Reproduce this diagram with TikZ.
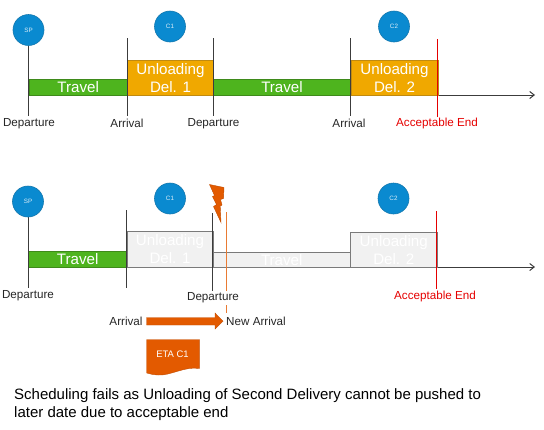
\documentclass[tikz,border=0pt]{standalone}
\usepackage{fontspec}
\setmainfont{Liberation Sans}
\usetikzlibrary{arrows.meta}
\definecolor{cblue}{HTML}{0A8AD0}
\definecolor{cblueb}{HTML}{1478AE}
\definecolor{cgreen}{HTML}{4EB41E}
\definecolor{cgreenb}{HTML}{3E8A1A}
\definecolor{cyel}{HTML}{F0A800}
\definecolor{cyelb}{HTML}{C08A10}
\definecolor{corg}{HTML}{E35A00}
\definecolor{cpale}{HTML}{F1F1F1}
\definecolor{cpaleb}{HTML}{7A7A7A}
\definecolor{cline}{HTML}{3C3C3C}
\definecolor{ctext}{HTML}{262626}
\tikzset{
  x=1bp,y=-1bp,
  stop/.style={circle,draw=cblueb,fill=cblue,line width=.6bp,minimum size=31bp,inner sep=0pt,text=white!85!cblue,font=\fontsize{6.3}{7}\selectfont},
  bar/.style={line width=1bp,inner sep=0pt},
  travelbar/.style={bar,draw=cgreenb,fill=cgreen,text=white,font=\fontsize{15.2}{16}\selectfont},
  unloadbar/.style={bar,draw=cyelb,fill=cyel,text=white,align=center,font=\fontsize{15.2}{18}\selectfont},
  palebar/.style={bar,draw=cpaleb,fill=cpale,text=white,align=center,font=\fontsize{15.2}{18}\selectfont},
  tick/.style={draw=cline,line width=1bp},
  redtick/.style={draw=red!90!black,line width=1bp},
  axis/.style={draw=cline,line width=1bp,-{Straight Barb[length=4.5bp,width=7bp]}},
  lab/.style={text=ctext,font=\fontsize{11.7}{13}\selectfont,inner sep=0pt},
  redlab/.style={lab,text=red!90!black},
  orangeshape/.style={fill=corg,draw=corg!85!black,line width=.4bp}
}
\begin{document}
\begin{tikzpicture}
\useasboundingbox (0,0) rectangle (544,429);
% ---------- top timeline
\coordinate (ta0) at (28.5,45); \coordinate (tb0) at (28.5,116);
\coordinate (ta1) at (127,38);  \coordinate (tb1) at (127,116);
\coordinate (ta2) at (213,38);  \coordinate (tb2) at (213,116);
\coordinate (ta3) at (350,38);  \coordinate (tb3) at (350,116);
\coordinate (ta4) at (437.5,39);\coordinate (tb4) at (437.5,117);
\coordinate (taxA) at (437.5,95); \coordinate (taxB) at (535,95);
\draw[axis] (taxA) -- (taxB);
\node[travelbar,minimum width=98.5bp,minimum height=16bp,anchor=north west] (tt1) at (28.5,79) {Travel};
\node[unloadbar,minimum width=86bp,minimum height=35.5bp,anchor=north west] (tu1) at (127,59.5) {Unloading\\Del. 1};
\node[travelbar,minimum width=137bp,minimum height=16bp,anchor=north west] (tt2) at (213,79) {Travel};
\node[unloadbar,minimum width=87bp,minimum height=35.5bp,anchor=north west] (tu2) at (350.5,59.5) {Unloading\\Del. 2};
\draw[tick] (ta0) -- (tb0);
\draw[tick] (ta1) -- (tb1);
\draw[tick] (ta2) -- (tb2);
\draw[tick] (ta3) -- (tb3);
\draw[redtick] (ta4) -- (tb4);
\node[stop] (tsp) at (28.5,30) {SP};
\node[stop] (tc1) at (170,26.5) {C1};
\node[stop] (tc2) at (394,26.5) {C2};
\node[lab] (tl0) at (29,123.5) {Departure};
\node[lab] (tl1) at (127,123.5) {Arrival};
\node[lab] (tl2) at (213.5,123.5) {Departure};
\node[lab] (tl3) at (349,123.5) {Arrival};
\node[redlab] (tl4) at (437,123.5) {Acceptable End};
% ---------- bottom timeline
\coordinate (ba0) at (28,217); \coordinate (bb0) at (28,288);
\coordinate (ba1) at (126.5,210); \coordinate (bb1) at (126.5,288);
\coordinate (ba2) at (212.5,213); \coordinate (bb2) at (212.5,291);
\coordinate (ba3) at (226,212); \coordinate (bb3) at (226,313);
\coordinate (ba4) at (436.5,211); \coordinate (bb4) at (436.5,289);
\coordinate (baxA) at (436.5,267); \coordinate (baxB) at (535,267);
\draw[axis] (baxA) -- (baxB);
\node[travelbar,minimum width=98.5bp,minimum height=16bp,anchor=north west] (bt1) at (28,251) {Travel};
\node[palebar,minimum width=86bp,minimum height=36bp,anchor=north west] (bu1) at (126.5,231) {Unloading\\Del. 1};
\node[palebar,minimum width=137.5bp,minimum height=15bp,anchor=north west] (bt2) at (212.5,252) {Travel};
\node[palebar,minimum width=86.5bp,minimum height=35.5bp,anchor=north west] (bu2) at (350,231.5) {Unloading\\Del. 2};
\draw[tick] (ba0) -- (bb0);
\draw[tick] (ba1) -- (bb1);
\draw[tick] (ba2) -- (bb2);
\draw[draw=corg!80!white,line width=1bp] (ba3) -- (bb3);
\draw[redtick] (ba4) -- (bb4);
\node[stop] (bsp) at (28,201.5) {SP};
\node[stop] (bc1) at (170,198.5) {C1};
\node[stop] (bc2) at (393.5,198.5) {C2};
\node[lab] (bl0) at (28,295.5) {Departure};
\node[lab,fill=white,inner ysep=1.5bp] (bl2) at (213,298) {Departure};
\node[redlab] (bl4) at (435,296) {Acceptable End};
\node[lab] (bl1) at (126,321.5) {Arrival};
\node[lab] (bl3) at (256,321) {New Arrival};
% lightning
\path[orangeshape] (209.5,184.5) -- (224,187.5) -- (223.5,198.5) -- (220.5,199.5) -- (222,205) -- (220.2,206) -- (221,222.5) -- (213.5,206.5) -- (216.5,204.5) -- (212.5,196.5) -- (214.5,195.5) -- cycle;
% shift arrow
\path[orangeshape] (146.5,317.5) -- (215,317.5) -- (215,313) -- (223,321.2) -- (215,329) -- (215,325) -- (146.5,325) -- cycle;
% ETA document
\path[orangeshape] (146.7,339.5) -- (199.3,339.5) -- (199.3,368.5) .. controls (185,366) and (170,376) .. (158,375) .. controls (153,374.7) and (150,374) .. (146.7,373) -- cycle;
\node[text=white,font=\fontsize{9.5}{11}\selectfont,inner sep=0pt] (eta) at (172.5,354.5) {ETA C1};
% caption
\node[anchor=west,align=left,inner sep=0pt,text=black,font=\fontsize{15.05}{18}\selectfont] (cap) at (14,404.5) {Scheduling fails as Unloading of Second Delivery cannot be pushed to\\later date due to acceptable end};
\end{tikzpicture}
\end{document}
